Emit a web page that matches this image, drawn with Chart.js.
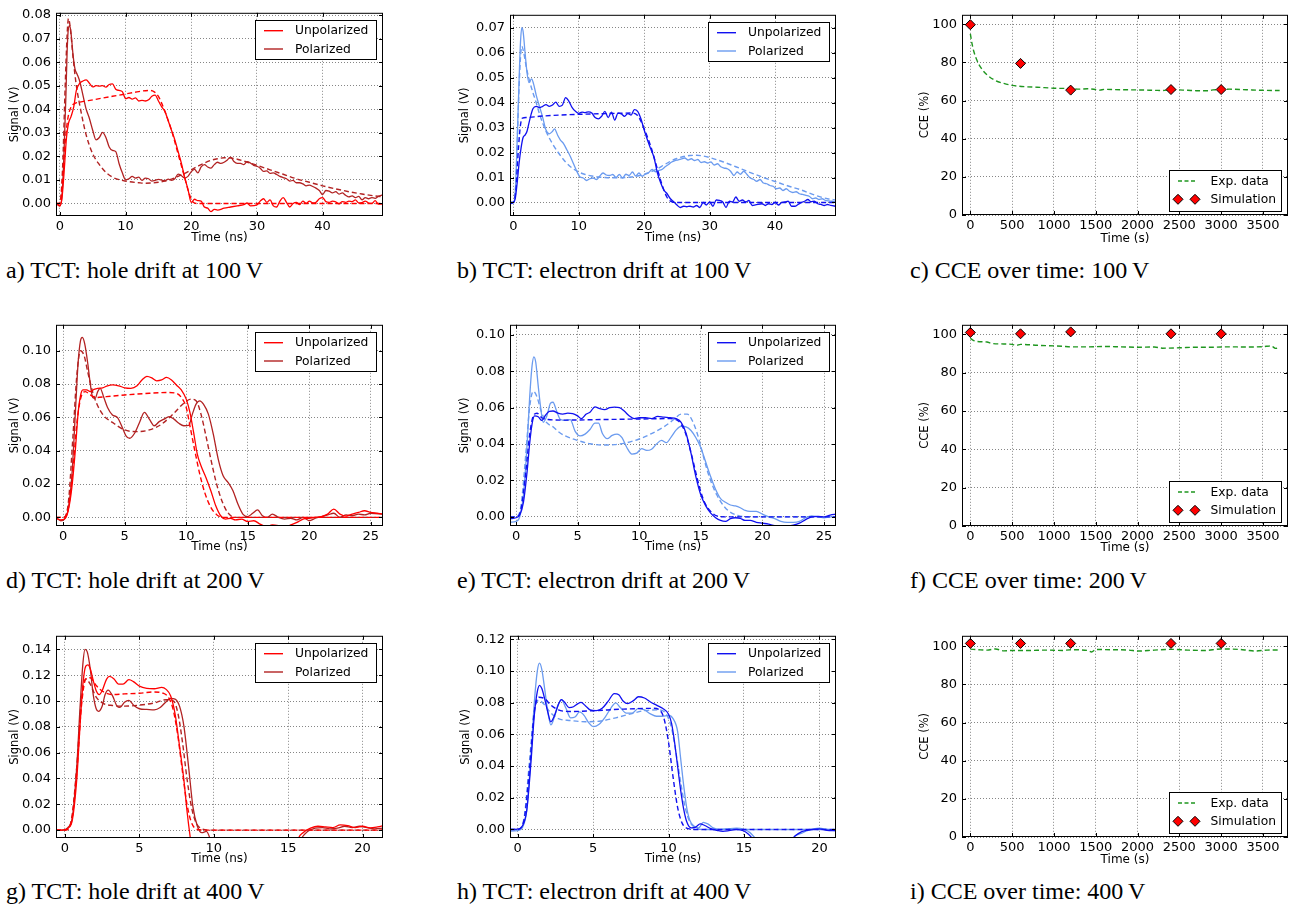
<!DOCTYPE html>
<html>
<head>
<meta charset="utf-8">
<script src="https://cdn.jsdelivr.net/npm/chart.js@4/dist/chart.umd.min.js"></script>
<style>
  body { margin: 0; background: #fff; width: 1297px; height: 907px; overflow: hidden; position: relative; }
  .panel { position: absolute; }
  .cap { position: absolute; font-family: "Liberation Serif", "Times New Roman", serif; font-size: 24px; line-height: 1; color: #000; white-space: nowrap; }
</style>
</head>
<body>
<script>
// ---- tick labels ----
const nsTicks49 = [0, 10, 20, 30, 40];
const nsTicks26 = [0, 5, 10, 15, 20, 25];
const nsTicks21 = [0, 5, 10, 15, 20];
const sigTicksA = [0, 0.01, 0.02, 0.03, 0.04, 0.05, 0.06, 0.07, 0.08];
const sigTicksB = [0, 0.01, 0.02, 0.03, 0.04, 0.05, 0.06, 0.07];
const sigTicksD = [0, 0.02, 0.04, 0.06, 0.08, 0.10];
const sigTicksE = [0, 0.02, 0.04, 0.06, 0.08, 0.10];
const sigTicksG = [0, 0.02, 0.04, 0.06, 0.08, 0.10, 0.12, 0.14];
const sigTicksH = [0, 0.02, 0.04, 0.06, 0.08, 0.10, 0.12];
const cceTimeTicks = [0, 500, 1000, 1500, 2000, 2500, 3000, 3500];
const cceTicks = [0, 20, 40, 60, 80, 100];

// ---- data: [time, signal] pairs ----
// hole drift, 100 V
const holeUnpol100 = [[-0.6,0],[-0.3,-0.0005],[0,-0.001],[0.3,0.002],[0.6,0.012],[1,0.028],[1.3,0.034],[1.7,0.037],[2.1,0.041],[2.5,0.048],[3,0.051],[3.5,0.052],[4,0.0525],[4.5,0.051],[5,0.0495],[5.5,0.05],[6,0.0498],[6.5,0.05],[7,0.0494],[7.5,0.0505],[8,0.0508],[8.5,0.0485],[9,0.048],[9.5,0.0475],[10,0.0445],[10.5,0.045],[11,0.0443],[11.5,0.0448],[12,0.0435],[12.5,0.0438],[13,0.0435],[13.5,0.044],[14,0.0455],[14.5,0.046],[15,0.0435],[15.5,0.041],[16,0.039],[16.5,0.035],[17,0.031],[17.5,0.027],[18,0.022],[18.5,0.017],[19,0.011],[19.5,0.006],[20,0.0005],[20.5,0.0018],[21,0.0012],[21.5,0.001],[22,-0.0015],[22.5,-0.002],[23,-0.0035],[23.5,-0.0025],[24,-0.0028],[25,-0.002],[26,-0.0015],[27,-0.001],[28,-0.0005],[28.5,0.0002],[29,-0.001],[30,-0.0006],[30.5,0.001],[31,0.002],[31.5,0.0005],[32,0.0015],[32.5,-0.001],[33,-0.0015],[33.5,0.001],[34,0.0025],[34.5,0.0005],[35,-0.0015],[35.5,0],[36,0.0005],[36.5,-0.0005],[37,0.001],[37.5,0],[38,0.001],[38.5,0.0002],[39,0.0005],[39.5,0.002],[40,0.0025],[40.5,0.0008],[41,0.0005],[41.5,0.001],[42,0.0007],[42.5,-0.0002],[43,0.0008],[43.5,0.0005],[44,0.001],[44.5,0.0008],[45,0.0015],[45.5,0.0002],[46,0.0004],[46.5,0.001],[47,0.0002],[47.5,0],[48,0.0012],[48.5,-0.0003],[49.3,-0.0003]];
const holeUnpolSim100 = [[-0.6,0],[0,0],[0.4,0.01],[0.8,0.026],[1.2,0.036],[1.7,0.041],[2.3,0.0425],[3,0.043],[5,0.044],[8,0.0455],[10,0.0465],[12,0.0475],[13.5,0.048],[14.3,0.0475],[15,0.0455],[15.5,0.0425],[16,0.039],[17,0.031],[18,0.021],[19,0.011],[19.7,0.004],[20.3,0.0005],[21,0],[49.3,0]];
const holePol100 = [[-0.6,0],[0,-0.001],[0.3,0.003],[0.6,0.02],[0.9,0.045],[1.1,0.065],[1.3,0.0745],[1.5,0.0755],[1.7,0.072],[2,0.063],[2.3,0.057],[2.6,0.055],[3,0.052],[3.5,0.046],[4,0.04],[4.5,0.036],[5,0.031],[5.5,0.027],[6,0.028],[6.5,0.0302],[7,0.028],[7.5,0.024],[8,0.0225],[8.5,0.022],[9,0.017],[9.5,0.013],[10,0.01],[10.5,0.0105],[11,0.0115],[11.5,0.0108],[12,0.0112],[12.5,0.0098],[13,0.0108],[13.5,0.0105],[14,0.0095],[14.5,0.0098],[15,0.0102],[16,0.0097],[16.5,0.0103],[17,0.0098],[17.5,0.0105],[18,0.0125],[18.5,0.0118],[19,0.0108],[19.5,0.0115],[20,0.0135],[20.5,0.0145],[21,0.013],[21.5,0.0155],[22,0.0165],[22.5,0.0155],[23,0.015],[23.5,0.0165],[24,0.0175],[24.5,0.017],[25,0.0175],[25.5,0.0185],[26,0.0197],[26.5,0.0178],[27,0.017],[27.5,0.017],[28,0.0165],[28.5,0.0178],[29,0.0172],[29.5,0.0162],[30,0.0158],[30.5,0.015],[31,0.0136],[31.5,0.0138],[32,0.0128],[32.5,0.013],[33,0.0123],[33.5,0.0115],[34,0.011],[34.5,0.0105],[35,0.0095],[35.5,0.0098],[36,0.0088],[36.5,0.0088],[37,0.0083],[37.5,0.0075],[38,0.0078],[38.5,0.0072],[39,0.0065],[39.5,0.0055],[40,0.0038],[40.5,0.0055],[41,0.0052],[41.5,0.0045],[42,0.005],[42.5,0.004],[43,0.0045],[43.5,0.0035],[44,0.0028],[44.5,0.0032],[45,0.0025],[45.5,0.003],[46,0.0015],[46.5,0.0025],[47,0.002],[47.5,0.0025],[48,0.0022],[48.5,0.003],[49.3,0.0038]];
const holePolSim100 = [[-0.6,0],[0,0],[0.4,0.015],[0.8,0.05],[1.1,0.072],[1.3,0.0785],[1.6,0.074],[2,0.062],[2.5,0.05],[3,0.042],[3.5,0.035],[4,0.029],[5,0.021],[6,0.0165],[7,0.0132],[8,0.0112],[9,0.0101],[10,0.0095],[11,0.0091],[12,0.0088],[13,0.0086],[14,0.0087],[15,0.009],[16,0.0095],[17,0.0103],[18,0.0115],[19,0.0128],[20,0.0143],[21,0.0158],[22,0.0172],[23,0.0183],[24,0.019],[25,0.0194],[26,0.0193],[27,0.0188],[28,0.018],[30,0.0162],[32,0.0143],[34,0.0124],[36,0.0105],[38,0.009],[40,0.0075],[42,0.0062],[44,0.005],[46,0.004],[48,0.0032],[49.3,0.0028]];

// electron drift, 100 V
const elecUnpol100 = [[-0.5,-0.0005],[0,0],[0.3,0.0015],[0.6,0.008],[0.9,0.016],[1.2,0.022],[1.5,0.026],[1.8,0.027],[2.1,0.0285],[2.5,0.033],[3,0.0375],[3.5,0.0385],[4,0.038],[4.5,0.0385],[5,0.0392],[5.5,0.0385],[6,0.039],[6.5,0.0402],[7,0.0385],[7.5,0.039],[8,0.042],[8.5,0.0405],[9,0.038],[9.5,0.0365],[10,0.0357],[10.5,0.0362],[11,0.036],[11.5,0.0363],[12,0.0358],[12.5,0.034],[13,0.0335],[13.5,0.0345],[14,0.0365],[14.5,0.034],[15,0.0362],[15.5,0.033],[16,0.0358],[16.5,0.0355],[17,0.0345],[17.5,0.0356],[18,0.035],[18.5,0.0372],[19,0.0365],[19.5,0.0335],[20,0.029],[20.5,0.025],[21,0.0215],[21.5,0.018],[22,0.012],[22.5,0.008],[23,0.005],[23.5,0.0035],[24,0.0015],[24.5,0.0003],[25,-0.001],[25.5,-0.002],[26,-0.0015],[26.5,-0.0017],[27,-0.0015],[27.5,-0.0018],[28,-0.0012],[28.5,-0.002],[29,0],[29.5,-0.001],[30,0.0002],[30.5,-0.0015],[31,0.001],[31.5,0.0008],[32,0.0002],[32.5,-0.002],[33,0.0005],[33.5,0.0002],[34,0.0022],[34.5,0.0005],[35,0.001],[35.5,0.0002],[36,0.0008],[36.5,-0.0012],[37,-0.001],[38,-0.0005],[38.5,-0.0012],[39,-0.0005],[39.5,-0.0008],[40,0],[40.5,-0.001],[41,0],[41.5,0.0002],[42,0.0005],[42.5,-0.0015],[43,-0.0015],[43.5,-0.0008],[44,0],[44.5,0.0005],[45,0.0012],[45.5,0.0003],[46,0.0005],[46.5,-0.0005],[47,-0.0008],[47.5,-0.0012],[48,-0.0008],[48.5,-0.0012],[49.3,-0.0015]];
const elecUnpolSim100 = [[-0.5,0],[0,0],[0.4,0.005],[0.8,0.022],[1.1,0.031],[1.4,0.0338],[2,0.034],[4,0.0345],[7,0.035],[10,0.0353],[13,0.0355],[16,0.0357],[18.3,0.0358],[19,0.0348],[19.5,0.0325],[20,0.0295],[21,0.0225],[22,0.0135],[22.8,0.0065],[23.5,0.002],[24.3,0.0002],[25,0],[49.3,0]];
const elecPol100 = [[-0.5,0],[0,0],[0.3,0.004],[0.6,0.025],[0.9,0.05],[1.1,0.064],[1.3,0.07],[1.5,0.0685],[1.8,0.06],[2.1,0.052],[2.4,0.048],[2.8,0.0495],[3.1,0.0475],[3.5,0.043],[4,0.0385],[4.5,0.034],[5,0.029],[5.5,0.0275],[6,0.0285],[6.3,0.0295],[6.8,0.0268],[7.2,0.025],[7.7,0.0235],[8.2,0.021],[8.7,0.0185],[9.2,0.0155],[9.7,0.0125],[10.2,0.0102],[10.7,0.0098],[11.2,0.0088],[11.7,0.0095],[12.2,0.0098],[12.7,0.0092],[13.2,0.0105],[13.7,0.0118],[14.2,0.011],[14.7,0.0108],[15.2,0.0112],[15.7,0.01],[16.2,0.0112],[16.7,0.0098],[17.2,0.0113],[17.7,0.0108],[18.2,0.0122],[18.7,0.0106],[19.2,0.0118],[19.7,0.0105],[20.2,0.0115],[20.7,0.012],[21.2,0.0132],[21.7,0.0123],[22.2,0.0128],[22.7,0.0132],[23.2,0.0143],[23.7,0.0152],[24.2,0.0162],[24.7,0.0168],[25.2,0.0171],[25.7,0.0175],[26.2,0.0178],[26.7,0.017],[27.2,0.0175],[27.7,0.0168],[28.2,0.0172],[28.7,0.016],[29.2,0.0163],[29.7,0.0158],[30.2,0.0162],[30.7,0.015],[31.2,0.0155],[31.7,0.0143],[32.2,0.0138],[32.7,0.0135],[33.2,0.0125],[33.7,0.0108],[34.2,0.0122],[34.7,0.0113],[35.2,0.0125],[35.7,0.0112],[36.2,0.0098],[36.7,0.0093],[37.2,0.0085],[37.7,0.0092],[38.2,0.0078],[38.7,0.0075],[39.2,0.0068],[39.7,0.0065],[40.2,0.0055],[40.7,0.0058],[41.2,0.0048],[41.7,0.0055],[42.2,0.0045],[42.7,0.004],[43.2,0.0043],[43.7,0.0035],[44.2,0.0032],[44.7,0.0028],[45.2,0.0025],[45.7,0.0015],[46.2,0.0018],[46.7,0.0012],[47.2,0.0015],[47.7,0.0008],[48.2,0.0006],[48.7,0.0005],[49.3,0.0003]];
const elecPolSim100 = [[-0.5,0],[0,0],[0.4,0.008],[0.8,0.04],[1.1,0.058],[1.3,0.0625],[1.6,0.06],[2,0.054],[2.5,0.0485],[3,0.044],[3.5,0.04],[4,0.0355],[5,0.0285],[6,0.0235],[7,0.0195],[8,0.0162],[9,0.0138],[10,0.0122],[11,0.0112],[12,0.0106],[13,0.0102],[14,0.01],[15,0.0099],[16,0.0099],[17,0.01],[18,0.0102],[19,0.0106],[20,0.0112],[21,0.0122],[22,0.0135],[23,0.015],[24,0.0165],[25,0.0176],[26,0.0184],[27,0.0188],[28,0.0189],[29,0.0186],[30,0.018],[32,0.0163],[34,0.0143],[36,0.0122],[38,0.0102],[40,0.0084],[42,0.0066],[44,0.005],[46,0.003],[48,0.0015],[49.3,0.001]];

// hole drift, 200 V
const holeUnpol200 = [[-0.6,-0.0005],[-0.2,-0.0015],[0.1,-0.001],[0.4,0.004],[0.7,0.018],[1,0.042],[1.2,0.062],[1.4,0.073],[1.6,0.0765],[1.9,0.0765],[2.2,0.0755],[2.5,0.0768],[2.8,0.0775],[3.2,0.0778],[3.6,0.079],[4,0.0795],[4.5,0.079],[5,0.0778],[5.5,0.0775],[6,0.079],[6.4,0.0825],[6.8,0.0847],[7.2,0.0838],[7.6,0.082],[8,0.0825],[8.4,0.084],[8.8,0.0825],[9.2,0.0795],[9.6,0.0765],[10,0.071],[10.3,0.063],[10.6,0.051],[10.9,0.038],[11.2,0.031],[11.6,0.024],[12,0.016],[12.4,0.007],[12.8,0.001],[13.2,-0.001],[13.6,-0.0005],[14,-0.0015],[14.5,-0.001],[15,-0.0025],[15.5,-0.002],[16,-0.004],[16.5,-0.0055],[17,-0.0045],[17.5,-0.005],[18,-0.006],[18.5,-0.0045],[19,-0.003],[19.5,-0.001],[20,-0.0005],[20.5,0],[21,0.0005],[21.5,0.002],[22,0.005],[22.5,0.002],[23,0.0008],[23.5,0.002],[24,0.003],[24.5,0.004],[25,0.003],[25.5,0.0025],[26,0.002]];
const holeUnpolSim200 = [[-0.6,0],[0,0],[0.4,0.005],[0.8,0.03],[1.1,0.056],[1.4,0.071],[1.8,0.0755],[2.2,0.0735],[2.7,0.072],[3.5,0.0725],[5,0.0735],[7,0.0745],[8.5,0.075],[9.2,0.0745],[9.6,0.072],[10,0.066],[10.3,0.055],[10.7,0.04],[11.1,0.026],[11.5,0.015],[12,0.006],[12.5,0.0015],[13,0],[26,0]];
const holePol200 = [[-0.6,0],[-0.2,-0.002],[0.1,-0.001],[0.4,0.005],[0.7,0.025],[1,0.065],[1.2,0.092],[1.4,0.106],[1.55,0.108],[1.75,0.104],[2,0.092],[2.2,0.08],[2.4,0.072],[2.6,0.0715],[2.8,0.0755],[3,0.0775],[3.3,0.072],[3.6,0.066],[4,0.0615],[4.4,0.06],[4.8,0.054],[5.1,0.049],[5.4,0.0475],[5.8,0.0505],[6.2,0.057],[6.6,0.063],[7,0.059],[7.4,0.055],[7.8,0.0575],[8.2,0.059],[8.6,0.0605],[9,0.059],[9.4,0.0565],[9.8,0.055],[10.2,0.0552],[10.5,0.062],[10.8,0.068],[11.1,0.07],[11.4,0.068],[11.8,0.062],[12.2,0.05],[12.6,0.035],[13,0.025],[13.4,0.021],[13.8,0.016],[14.2,0.008],[14.6,0.002],[15,0.0005],[15.4,0.0025],[15.8,0.0045],[16.2,0.001],[16.6,0],[17,0.002],[17.5,0],[18,-0.001],[18.5,-0.0005],[19,-0.0015],[19.5,0],[20,-0.002],[20.5,-0.0005],[21,0.0005],[21.5,0.0015],[22,0.0025],[22.5,0],[23,0.0015],[23.5,0.001],[24,0.002],[24.5,0.0015],[25,0.0025],[26,0.002]];
const holePolSim200 = [[-0.6,0],[0,0],[0.4,0.008],[0.8,0.05],[1.1,0.085],[1.4,0.1],[1.7,0.097],[2,0.087],[2.4,0.075],[2.8,0.067],[3.3,0.061],[4,0.057],[5,0.0525],[6,0.0515],[7,0.0525],[8,0.056],[9,0.0625],[9.8,0.0685],[10.4,0.071],[10.8,0.07],[11.2,0.062],[11.6,0.049],[12,0.035],[12.4,0.022],[12.8,0.012],[13.2,0.005],[13.6,0.0012],[14,0],[26,0]];

// electron drift, 200 V
const elecUnpol200 = [[-0.5,-0.001],[0,-0.0005],[0.3,0.001],[0.6,0.008],[0.9,0.025],[1.1,0.04],[1.3,0.051],[1.5,0.0555],[1.8,0.055],[2.1,0.053],[2.4,0.056],[2.7,0.058],[3,0.0582],[3.4,0.057],[3.8,0.0565],[4.2,0.057],[4.6,0.0568],[5,0.0555],[5.3,0.054],[5.7,0.0565],[6,0.0575],[6.4,0.0605],[6.8,0.0595],[7.2,0.059],[7.6,0.06],[8,0.0603],[8.4,0.06],[8.8,0.058],[9.2,0.0555],[9.6,0.054],[10,0.0545],[10.5,0.0545],[11,0.054],[11.5,0.0552],[12,0.0548],[12.5,0.0545],[13,0.054],[13.4,0.052],[13.8,0.046],[14.2,0.035],[14.6,0.022],[15,0.012],[15.4,0.006],[15.8,0.002],[16.2,-0.0005],[16.6,-0.002],[17,-0.0025],[17.4,-0.001],[17.8,-0.0005],[18.2,-0.0008],[18.6,-0.002],[19,-0.002],[19.5,-0.003],[20,-0.0035],[20.5,-0.004],[21,-0.0048],[22,-0.005],[22.5,-0.0045],[23,-0.0035],[23.5,-0.0015],[24,0],[24.5,0.0002],[25,0],[25.5,0.001],[26,0.0015]];
const elecUnpolSim200 = [[-0.5,0],[0,0],[0.4,0.004],[0.8,0.025],[1.1,0.045],[1.4,0.0555],[1.7,0.057],[2.1,0.0545],[2.6,0.0535],[4,0.0532],[7,0.0535],[10,0.0538],[12.5,0.054],[13.2,0.0525],[13.7,0.047],[14.1,0.038],[14.5,0.027],[14.9,0.016],[15.3,0.008],[15.8,0.003],[16.3,0.0005],[17,0],[26,0]];
const elecPol200 = [[-0.5,-0.003],[0,-0.0025],[0.3,0],[0.6,0.012],[0.9,0.04],[1.1,0.065],[1.3,0.083],[1.45,0.088],[1.6,0.085],[1.8,0.072],[2,0.06],[2.2,0.052],[2.5,0.0555],[2.8,0.0625],[3,0.063],[3.3,0.058],[3.6,0.0535],[4,0.053],[4.4,0.0535],[4.8,0.047],[5.2,0.0445],[5.6,0.0455],[6,0.048],[6.4,0.0515],[6.7,0.0515],[7,0.046],[7.4,0.043],[7.8,0.0448],[8.2,0.0455],[8.6,0.0435],[9,0.038],[9.4,0.0345],[9.8,0.035],[10.2,0.0375],[10.6,0.0365],[11,0.0372],[11.4,0.04],[11.8,0.042],[12.2,0.0408],[12.6,0.044],[13,0.0478],[13.4,0.0498],[13.8,0.0495],[14.2,0.0475],[14.6,0.0435],[15,0.038],[15.4,0.03],[15.8,0.022],[16.2,0.015],[16.6,0.01],[17,0.008],[17.4,0.0065],[17.8,0.006],[18.2,0.005],[18.6,0.0035],[19,0.003],[19.5,0.003],[20,0.0015],[20.5,0],[21,-0.001],[21.5,-0.0025],[22,-0.003],[22.5,-0.003],[23,-0.0025],[23.5,-0.0005],[24,0.0005],[24.5,0],[25,-0.0005],[25.5,0],[26,0]];
const elecPolSim200 = [[-0.5,0],[0,0],[0.4,0.006],[0.8,0.035],[1.1,0.06],[1.4,0.069],[1.7,0.066],[2,0.059],[2.4,0.0525],[3,0.0495],[3.5,0.0465],[4,0.0445],[5,0.042],[6,0.0402],[7,0.0395],[8,0.0397],[9,0.0408],[10,0.0428],[11,0.0458],[12,0.0495],[12.8,0.0535],[13.4,0.0565],[13.9,0.0565],[14.3,0.053],[14.7,0.046],[15.1,0.036],[15.5,0.026],[15.9,0.018],[16.3,0.012],[16.8,0.0065],[17.3,0.003],[18,0.0008],[18.7,0],[26,0]];

// hole drift, 400 V
const holeUnpol400 = [[-0.6,0],[-0.2,0],[0.2,0.0015],[0.5,0.008],[0.8,0.04],[1,0.078],[1.2,0.112],[1.4,0.127],[1.55,0.128],[1.7,0.125],[1.9,0.116],[2.1,0.108],[2.3,0.105],[2.5,0.108],[2.8,0.117],[3,0.119],[3.3,0.117],[3.6,0.113],[3.9,0.113],[4.3,0.1165],[4.6,0.115],[5,0.1115],[5.5,0.1098],[6,0.1095],[6.5,0.1105],[6.8,0.109],[7.1,0.104],[7.4,0.09],[7.7,0.065],[8,0.038],[8.2,0.015],[8.4,-0.004],[8.6,-0.02],[15.4,-0.02],[15.7,-0.006],[16,-0.002],[16.5,0.0015],[17,0.003],[17.5,0.0025],[18,0.002],[18.5,0.004],[19,0.0035],[19.5,0.002],[20,0.003],[20.5,0.0018],[21,0.0025],[21.4,0.0035]];
const holeUnpolSim400 = [[-0.6,0],[0,0],[0.4,0.005],[0.8,0.045],[1.1,0.095],[1.4,0.117],[1.7,0.118],[2.1,0.112],[2.6,0.107],[3.2,0.105],[4,0.1055],[5,0.106],[6,0.107],[6.6,0.106],[7,0.102],[7.3,0.092],[7.6,0.072],[7.9,0.045],[8.2,0.02],[8.5,0.006],[8.9,0.0005],[9.5,0],[21.4,0]];
const holePol400 = [[-0.6,0],[-0.2,0],[0.2,0.002],[0.5,0.01],[0.8,0.05],[1,0.092],[1.2,0.128],[1.35,0.14],[1.5,0.138],[1.7,0.125],[1.9,0.105],[2.1,0.094],[2.25,0.092],[2.5,0.096],[2.7,0.105],[2.9,0.1085],[3.2,0.104],[3.5,0.096],[3.7,0.095],[4,0.099],[4.3,0.1005],[4.6,0.097],[5,0.094],[5.5,0.0935],[6,0.0932],[6.4,0.095],[6.8,0.0995],[7.1,0.102],[7.4,0.1015],[7.7,0.096],[8,0.08],[8.3,0.05],[8.6,0.018],[8.9,0.003],[9.2,-0.002],[9.5,-0.001],[9.8,-0.008],[10.2,-0.02],[15.4,-0.02],[15.8,-0.008],[16.3,-0.001],[16.8,0.0015],[17.3,0.002],[17.8,0.001],[18.3,0.0015],[18.8,0.003],[19.3,0.002],[19.8,0.003],[20.3,0.002],[20.8,0.001],[21.4,0.0015]];
const holePolSim400 = [[-0.6,0],[0,0],[0.4,0.006],[0.8,0.05],[1.1,0.1],[1.4,0.117],[1.7,0.113],[2.1,0.103],[2.6,0.098],[3.2,0.0965],[4,0.096],[5,0.0968],[6,0.0985],[6.8,0.101],[7.3,0.1],[7.6,0.09],[7.9,0.068],[8.2,0.04],[8.5,0.018],[8.8,0.006],[9.2,0.001],[9.7,0],[21.4,0]];

// electron drift, 400 V
const elecUnpol400 = [[-0.5,0],[0,0.0002],[0.3,0.002],[0.6,0.012],[0.9,0.045],[1.1,0.072],[1.3,0.087],[1.45,0.091],[1.6,0.089],[1.8,0.082],[2,0.074],[2.2,0.068],[2.4,0.071],[2.7,0.079],[2.9,0.082],[3.1,0.0805],[3.4,0.077],[3.7,0.0775],[4,0.0795],[4.2,0.0802],[4.5,0.078],[4.8,0.0755],[5.2,0.075],[5.6,0.0765],[6,0.081],[6.4,0.0858],[6.7,0.085],[7,0.081],[7.3,0.0795],[7.7,0.0815],[8,0.0838],[8.4,0.083],[8.8,0.0805],[9.2,0.0785],[9.6,0.0765],[10,0.0728],[10.2,0.067],[10.4,0.055],[10.6,0.04],[10.8,0.025],[11,0.013],[11.2,0.005],[11.5,0.001],[11.8,0.0015],[12.1,0.0035],[12.4,0.0025],[12.8,0.0005],[13.2,-0.0005],[13.6,-0.0012],[14,-0.0008],[14.5,0],[15,-0.001],[15.3,-0.003],[15.6,-0.006],[16,-0.008],[17,-0.008],[18,-0.008],[18.4,-0.004],[18.8,-0.0015],[19.2,-0.0005],[19.6,0],[20,0.0003],[20.5,-0.0005],[21.1,-0.0008]];
const elecUnpolSim400 = [[-0.5,0],[0,0],[0.4,0.005],[0.8,0.04],[1.1,0.074],[1.4,0.0835],[1.8,0.0825],[2.2,0.0785],[2.7,0.0755],[3.5,0.0745],[5,0.075],[7,0.076],[9,0.0765],[9.4,0.0755],[9.7,0.07],[10,0.055],[10.3,0.033],[10.6,0.014],[10.9,0.004],[11.3,0.0005],[11.8,0],[21.1,0]];
const elecPol400 = [[-0.5,-0.001],[0,-0.0008],[0.3,0.001],[0.6,0.012],[0.9,0.05],[1.1,0.08],[1.3,0.1],[1.45,0.105],[1.6,0.101],[1.8,0.088],[2,0.074],[2.2,0.066],[2.4,0.07],[2.7,0.079],[2.9,0.082],[3.2,0.0765],[3.5,0.0705],[3.8,0.071],[4.1,0.0742],[4.4,0.072],[4.7,0.0675],[5,0.065],[5.4,0.0665],[5.8,0.071],[6.2,0.077],[6.5,0.08],[6.8,0.077],[7.2,0.0735],[7.6,0.0735],[8,0.0765],[8.4,0.0755],[8.8,0.073],[9.2,0.0715],[9.6,0.0715],[10,0.072],[10.3,0.07],[10.6,0.062],[10.8,0.045],[11,0.028],[11.2,0.014],[11.4,0.006],[11.7,0.002],[12,0.001],[12.3,0.0045],[12.6,0.0035],[13,0.0008],[13.5,0],[14,0.0005],[14.5,0.0008],[15,0],[15.4,-0.002],[15.8,-0.006],[16.2,-0.008],[18,-0.008],[18.4,-0.004],[18.8,-0.0025],[19.2,-0.0008],[19.6,0.0003],[20,0.0008],[20.5,0],[21.1,-0.0008]];
const elecPolSim400 = [[-0.5,0],[0,0],[0.4,0.006],[0.8,0.045],[1.1,0.075],[1.4,0.0815],[1.8,0.0785],[2.2,0.0735],[2.7,0.07],[3.5,0.0688],[4.5,0.068],[5.5,0.0685],[6.5,0.0705],[7.5,0.073],[8.5,0.0752],[9.3,0.0755],[9.8,0.0735],[10.2,0.064],[10.5,0.048],[10.8,0.03],[11.1,0.014],[11.4,0.005],[11.8,0.001],[12.3,0],[21.1,0]];

// CCE over time: [time (s), CCE (%)]
const cceExp100 = [[0,95],[15,91],[40,86],[80,81],[130,77],[200,73.5],[300,70.5],[400,69],[500,68],[650,67.3],[800,67],[1000,66.5],[1200,66.3],[1300,66],[1400,66.2],[1500,65.8],[1550,65.5],[1600,65.9],[1800,65.7],[2000,65.6],[2200,65.4],[2300,65.3],[2400,65.7],[2600,65.4],[2700,65.2],[2850,65.2],[2900,65.6],[3000,65.8],[3100,66],[3300,65.7],[3500,65.4],[3700,65.3]];
const cceSim100 = [[0,99.8],[600,79.5],[1200,65.5],[2400,65.8],[3000,65.8]];
const cceExp200 = [[0,98],[30,97],[80,96.3],[200,96],[250,95.3],[400,95],[500,94.8],[550,94.3],[600,94.8],[800,94.3],[1000,94],[1100,93.8],[1200,93.5],[1400,93.5],[1600,93.7],[1800,93.5],[2000,93.3],[2200,93.4],[2300,92.8],[2500,93],[2700,93.3],[2900,93.3],[3100,93.5],[3300,93.4],[3500,93.6],[3600,94],[3650,92.7],[3700,93]];
const cceSim200 = [[0,101],[600,100.3],[1200,101.3],[2400,100.3],[3000,100.3]];
const cceExp400 = [[0,98.5],[100,98.2],[200,98],[300,98.6],[400,97.6],[500,97.8],[700,97.8],[900,98],[1100,97.8],[1200,98.2],[1400,97.8],[1450,97],[1500,98.3],[1700,98.2],[1900,98],[2000,97.5],[2200,98],[2400,98.4],[2600,98],[2800,97.8],[3000,98.6],[3200,98.4],[3300,98],[3400,97.5],[3550,98],[3700,98.1]];
const cceSim400 = [[0,101.5],[600,101.5],[1200,101.5],[2400,101.5],[3000,101.5]];

const RED = '#ff0000', DARKRED = '#b22222', BLUE = '#1010f0', LIGHTBLUE = '#6b9bef', GREEN = '#1f961f';

// Line helpers
function trace(pairs, color, dashed) {
    return {
        data: pairs.map(p => ({ x: p[0], y: p[1] })),
        borderColor: color,
        borderWidth: dashed ? 1.4 : 1.3,
        borderDash: dashed ? [5, 3] : [],
        pointRadius: 0,
        cubicInterpolationMode: 'monotone',
        fill: false
    };
}
function markers(pairs) {
    return {
        data: pairs.map(p => ({ x: p[0], y: p[1] })),
        showLine: false,
        pointStyle: 'rectRot',
        pointRadius: 5,
        backgroundColor: '#ff0000',
        borderColor: '#000',
        borderWidth: 1
    };
}

function tctLegend(c1, c2) {
    return { corner: 'ne', w: 121, h: 39, dx: 7, dy: 7, rows: [10.7, 29], s0: 9, s1: 28, tx: 40,
        items: [{ text: 'Unpolarized', color: c1, kind: 'line' }, { text: 'Polarized', color: c2, kind: 'line' }] };
}
const cceLegend = { corner: 'se', w: 112, h: 41, dx: 7, dy: 4, rows: [11, 29.3], s0: 9, s1: 26, tx: 41.5,
    items: [{ text: 'Exp. data', color: GREEN, kind: 'dash' }, { text: 'Simulation', kind: 'marker' }] };

// frame, inward ticks and boxed legend, matplotlib style
const panelDecor = {
    id: 'panelDecor',
    afterDatasetsDraw(chart, args, opts) {
        const ctx = chart.ctx, a = chart.chartArea;
        const xs = chart.scales.x, ys = chart.scales.y;
        ctx.save();
        ctx.strokeStyle = '#000';
        ctx.lineWidth = 1;
        ctx.setLineDash([]);
        ctx.beginPath();
        xs.ticks.forEach(t => {
            const px = Math.round(xs.getPixelForValue(t.value)) + 0.5;
            ctx.moveTo(px, a.bottom); ctx.lineTo(px, a.bottom - 4);
            ctx.moveTo(px, a.top); ctx.lineTo(px, a.top + 4);
        });
        ys.ticks.forEach(t => {
            const py = Math.round(ys.getPixelForValue(t.value)) + 0.5;
            ctx.moveTo(a.left, py); ctx.lineTo(a.left + 4, py);
            ctx.moveTo(a.right, py); ctx.lineTo(a.right - 4, py);
        });
        ctx.stroke();
        ctx.strokeRect(a.left + 0.5, a.top + 0.5, a.right - a.left - 1, a.bottom - a.top - 1);

        const lg = opts.legend;
        if (lg) {
            const bx = Math.round(a.right - lg.dx - lg.w);
            const by = Math.round(lg.corner === 'ne' ? a.top + lg.dy : a.bottom - lg.dy - lg.h);
            ctx.fillStyle = '#fff';
            ctx.fillRect(bx, by, lg.w, lg.h);
            ctx.strokeRect(bx + 0.5, by + 0.5, lg.w, lg.h);
            ctx.font = '12.3px "DejaVu Sans"';
            ctx.textBaseline = 'middle';
            lg.items.forEach((it, i) => {
                const y = by + lg.rows[i];
                if (it.kind === 'marker') {
                    [bx + lg.s0, bx + lg.s1].forEach(mx => {
                        ctx.beginPath();
                        ctx.moveTo(mx, y - 5); ctx.lineTo(mx + 5, y); ctx.lineTo(mx, y + 5); ctx.lineTo(mx - 5, y);
                        ctx.closePath();
                        ctx.fillStyle = '#ff0000'; ctx.fill();
                        ctx.strokeStyle = '#000'; ctx.lineWidth = 1; ctx.stroke();
                    });
                } else {
                    ctx.beginPath();
                    ctx.strokeStyle = it.color;
                    ctx.lineWidth = 1.4;
                    ctx.setLineDash(it.kind === 'dash' ? [4, 2.5] : []);
                    ctx.moveTo(bx + lg.s0, y); ctx.lineTo(bx + lg.s1, y);
                    ctx.stroke();
                    ctx.setLineDash([]);
                }
                ctx.fillStyle = '#000';
                ctx.fillText(it.text, bx + lg.tx, y + 0.5);
            });
        }
        ctx.restore();
    }
};

const panels = [
    { L: 56, T: 10, R: 383, B: 216, x: [-0.6, 49.2], xt: nsTicks49, y: [-0.00532, 0.08096], yt: sigTicksA, dec: 2,
      yTitle: 'Signal (V)', xTitle: 'Time (ns)', yTitleX: 15, xTitleY: 237.7,
      sets: [trace(holeUnpol100, RED), trace(holeUnpolSim100, RED, true), trace(holePol100, DARKRED), trace(holePolSim100, DARKRED, true)],
      legend: tctLegend(RED, DARKRED), caption: 'a) TCT: hole drift at 100\u2009V', capX: 6, capBase: 278 },
    { L: 510, T: 12, R: 836, B: 216, x: [-0.5, 49.3], xt: nsTicks49, y: [-0.00541, 0.07513], yt: sigTicksB, dec: 2,
      yTitle: 'Signal (V)', xTitle: 'Time (ns)', yTitleX: 465, xTitleY: 237.7,
      sets: [trace(elecUnpol100, BLUE), trace(elecUnpolSim100, BLUE, true), trace(elecPol100, LIGHTBLUE), trace(elecPolSim100, LIGHTBLUE, true)],
      legend: tctLegend(BLUE, LIGHTBLUE), caption: 'b) TCT: electron drift at 100\u2009V', capX: 457, capBase: 278 },
    { L: 962, T: 12, R: 1288, B: 215, x: [-100, 3800], xt: cceTimeTicks, y: [0, 105], yt: cceTicks, dec: 0,
      yTitle: 'CCE (%)', xTitle: 'Time (s)', yTitleX: 925, xTitleY: 238.3,
      sets: [markers(cceSim100), trace(cceExp100, GREEN, true)],
      legend: cceLegend, caption: 'c) CCE over time: 100\u2009V', capX: 910, capBase: 278 },

    { L: 56, T: 322, R: 383, B: 526, x: [-0.59, 26], xt: nsTicks26, y: [-0.00515, 0.1156], yt: sigTicksD, dec: 2,
      yTitle: 'Signal (V)', xTitle: 'Time (ns)', yTitleX: 15, xTitleY: 547.3,
      sets: [trace(holeUnpol200, RED), trace(holeUnpolSim200, RED, true), trace(holePol200, DARKRED), trace(holePolSim200, DARKRED, true)],
      legend: tctLegend(RED, DARKRED), caption: 'd) TCT: hole drift at 200\u2009V', capX: 6, capBase: 588 },
    { L: 510, T: 322, R: 836, B: 526, x: [-0.49, 25.97], xt: nsTicks26, y: [-0.00504, 0.1056], yt: sigTicksE, dec: 2,
      yTitle: 'Signal (V)', xTitle: 'Time (ns)', yTitleX: 465, xTitleY: 547.3,
      sets: [trace(elecUnpol200, BLUE), trace(elecUnpolSim200, BLUE, true), trace(elecPol200, LIGHTBLUE), trace(elecPolSim200, LIGHTBLUE, true)],
      legend: tctLegend(BLUE, LIGHTBLUE), caption: 'e) TCT: electron drift at 200\u2009V', capX: 457, capBase: 588 },
    { L: 962, T: 322, R: 1288, B: 526, x: [-100, 3800], xt: cceTimeTicks, y: [0, 105], yt: cceTicks, dec: 0,
      yTitle: 'CCE (%)', xTitle: 'Time (s)', yTitleX: 925, xTitleY: 548.3,
      sets: [markers(cceSim200), trace(cceExp200, GREEN, true)],
      legend: cceLegend, caption: 'f) CCE over time: 200\u2009V', capX: 910, capBase: 588 },

    { L: 56, T: 633, R: 383, B: 838, x: [-0.6, 21.37], xt: nsTicks21, y: [-0.0061, 0.1505], yt: sigTicksG, dec: 2,
      yTitle: 'Signal (V)', xTitle: 'Time (ns)', yTitleX: 15, xTitleY: 859,
      sets: [trace(holeUnpol400, RED), trace(holeUnpolSim400, RED, true), trace(holePol400, DARKRED), trace(holePolSim400, DARKRED, true)],
      legend: tctLegend(RED, DARKRED), caption: 'g) TCT: hole drift at 400\u2009V', capX: 6, capBase: 899.5 },
    { L: 510, T: 633, R: 836, B: 838, x: [-0.51, 21.1], xt: nsTicks21, y: [-0.0054, 0.1223], yt: sigTicksH, dec: 2,
      yTitle: 'Signal (V)', xTitle: 'Time (ns)', yTitleX: 466, xTitleY: 859,
      sets: [trace(elecUnpol400, BLUE), trace(elecUnpolSim400, BLUE, true), trace(elecPol400, LIGHTBLUE), trace(elecPolSim400, LIGHTBLUE, true)],
      legend: tctLegend(BLUE, LIGHTBLUE), caption: 'h) TCT: electron drift at 400\u2009V', capX: 457, capBase: 899.5 },
    { L: 962, T: 633, R: 1288, B: 837, x: [-100, 3800], xt: cceTimeTicks, y: [0, 105.5], yt: cceTicks, dec: 0,
      yTitle: 'CCE (%)', xTitle: 'Time (s)', yTitleX: 925, xTitleY: 860,
      sets: [markers(cceSim400), trace(cceExp400, GREEN, true)],
      legend: cceLegend, caption: 'i) CCE over time: 400\u2009V', capX: 910, capBase: 899.5 }
];

function axisCommon(range, tickList, dec, title, titleSize) {
    return {
        type: 'linear',
        min: range[0],
        max: range[1],
        afterBuildTicks: s => { s.ticks = tickList.map(v => ({ value: v })); },
        ticks: {
            maxRotation: 0,
            autoSkip: false,
            color: '#000',
            font: { family: 'DejaVu Sans', size: 13 },
            callback: v => Number(v).toFixed(dec)
        },
        grid: { color: 'rgba(0,0,0,0.6)', lineWidth: 0.8, drawTicks: false },
        border: { display: false, dash: [1, 2] },
        title: { display: true, text: title, color: '#000', padding: 0,
                 font: { family: 'DejaVu Sans', size: titleSize, lineHeight: 1.2 } }
    };
}

function makePanel(p) {
    const ySize = 11.5, yLH = ySize * 1.2, xLH = 12 * 1.2;
    const left = Math.round(p.yTitleX - yLH / 2);
    const W = p.L - left;
    const top = p.T - 10;
    const H = Math.round(p.xTitleY - p.B + xLH / 2);
    const cw = W + (p.R - p.L) + 8;
    const ch = 10 + (p.B - p.T) + H;

    const canvas = document.createElement('canvas');
    canvas.className = 'panel';
    canvas.width = cw;
    canvas.height = ch;
    canvas.style.left = left + 'px';
    canvas.style.top = top + 'px';
    canvas.style.width = cw + 'px';
    canvas.style.height = ch + 'px';
    document.body.appendChild(canvas);

    const xAxis = axisCommon(p.x, p.xt, 0, p.xTitle, 12);
    xAxis.ticks.padding = 3;
    xAxis.afterFit = s => { s.height = H; };
    const yAxis = axisCommon(p.y, p.yt, p.dec, p.yTitle, ySize);
    yAxis.ticks.padding = 5;
    yAxis.afterFit = s => { s.width = W; };

    new Chart(canvas.getContext('2d'), {
        type: 'line',
        data: { datasets: p.sets },
        options: {
            responsive: false,
            animation: false,
            events: [],
            layout: { padding: { top: 10, right: 8, left: 0, bottom: 0 } },
            plugins: { legend: { display: false }, tooltip: { enabled: false }, panelDecor: { legend: p.legend } },
            scales: { x: xAxis, y: yAxis }
        },
        plugins: [panelDecor]
    });

    const cap = document.createElement('div');
    cap.className = 'cap';
    cap.textContent = p.caption;
    cap.style.left = p.capX + 'px';
    cap.style.top = (p.capBase - 20.1) + 'px';
    document.body.appendChild(cap);
}

panels.forEach(makePanel);
</script>
</body>
</html>
